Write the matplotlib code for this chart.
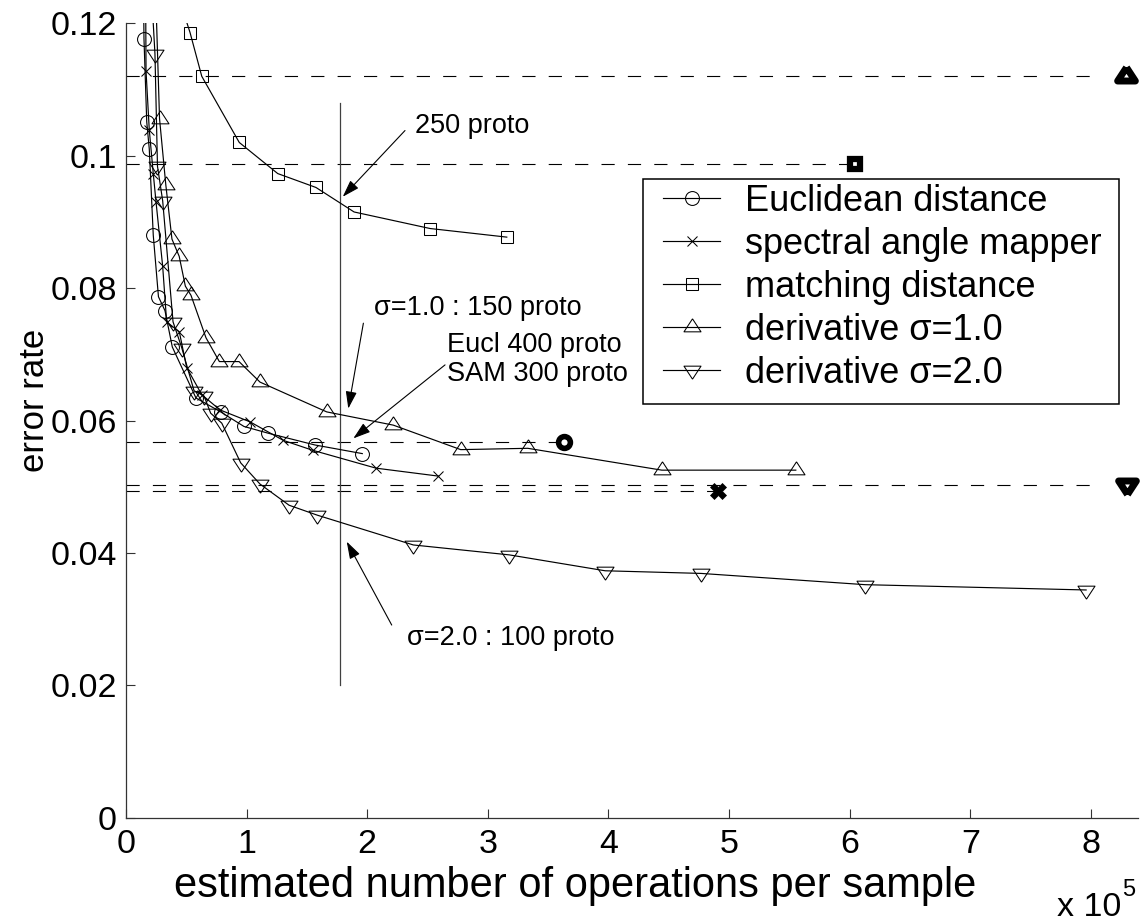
import matplotlib
matplotlib.use("Agg")
import matplotlib.pyplot as plt
from matplotlib.markers import MarkerStyle
from matplotlib.patches import Rectangle

plt.rcParams['font.family'] = ['Liberation Sans', 'DejaVu Sans']
plt.rcParams['lines.scale_dashes'] = False

# ---- data (operations in units of 1e5, error rate) ----
euclid_ops = [0.14, 0.149, 0.172, 0.193, 0.226, 0.269, 0.323, 0.384, 0.580, 0.785, 0.978, 1.175, 1.567, 1.959]
euclid_err = [0.135, 0.1177, 0.1051, 0.1010, 0.0880, 0.0787, 0.0766, 0.0711, 0.0634, 0.0613, 0.0591, 0.0581, 0.0563, 0.0550]

sam_ops = [0.16, 0.166, 0.193, 0.226, 0.249, 0.304, 0.337, 0.442, 0.503, 0.628, 0.779, 1.028, 1.304, 1.548, 2.073, 2.590]
sam_err = [0.135, 0.1128, 0.1039, 0.0973, 0.0930, 0.0833, 0.0749, 0.0734, 0.0680, 0.0639, 0.0616, 0.0598, 0.0570, 0.0555, 0.0528, 0.0516]

match_ops = [0.40, 0.531, 0.628, 0.939, 1.258, 1.575, 1.891, 2.521, 3.157]
match_err = [0.126, 0.1186, 0.1120, 0.1020, 0.0973, 0.0952, 0.0915, 0.0890, 0.0877]

d1_ops = [0.23, 0.278, 0.330, 0.381, 0.441, 0.492, 0.539, 0.663, 0.774, 0.937, 1.111, 1.664, 2.216, 2.775, 3.331, 4.442, 5.553]
d1_err = [0.134, 0.1056, 0.0956, 0.0874, 0.0848, 0.0803, 0.0789, 0.0725, 0.0689, 0.0689, 0.0658, 0.0613, 0.0593, 0.0556, 0.0558, 0.0525, 0.0525]

d2_ops = [0.195, 0.240, 0.261, 0.304, 0.390, 0.462, 0.564, 0.647, 0.702, 0.794, 0.951, 1.111, 1.352, 1.586, 2.382, 3.178, 3.972, 4.768, 6.128, 7.960]
d2_err = [0.130, 0.1154, 0.0984, 0.0932, 0.0749, 0.0710, 0.0645, 0.0637, 0.0611, 0.0596, 0.0536, 0.0504, 0.0472, 0.0457, 0.0412, 0.0397, 0.0373, 0.0369, 0.0352, 0.0344]

labels = ["Euclidean distance", "spectral angle mapper", "matching distance",
          "derivative σ=1.0", "derivative σ=2.0"]

# reference results (one per method) drawn as bold markers with dashed guides
ref_ops = [3.63, 4.91, 6.04, 8.29, 8.30]
ref_err = [0.0568, 0.0494, 0.0987, 0.1121, 0.0503]
guide_max_ops = 8.0

# chosen operating point
op_line_x = 1.775
op_line_err = (0.02, 0.108)

xticks = [0, 1, 2, 3, 4, 5, 6, 7, 8]
yticks = [0, 0.02, 0.04, 0.06, 0.08, 0.1, 0.12]
ytick_labels = ["0", "0.02", "0.04", "0.06", "0.08", "0.1", "0.12"]

# ---- figure ----
W, H = 1141, 922
fig = plt.figure(figsize=(W / 100, H / 100), dpi=100)
ax = fig.add_axes([126 / W, 1 - 817.7 / H, 1012 / W, (817.7 - 23.3) / H])
ax.set_xlim(0, 8.39)
ax.set_ylim(0, 0.12)

# triangle markers with the data point at the centroid
up_verts = [(0, 0.667), (-0.654, -0.333), (0.654, -0.333), (0, 0.667)]
dn_verts = [(0, -0.667), (-0.654, 0.333), (0.654, 0.333), (0, -0.667)]
tri_up = MarkerStyle(up_verts, joinstyle='miter')
tri_dn = MarkerStyle(dn_verts, joinstyle='miter')
tri_up_b = MarkerStyle(up_verts, joinstyle='round')
tri_dn_b = MarkerStyle(dn_verts, joinstyle='round')

lw = 0.85
common = dict(color='black', lw=lw, mfc='none', mec='black', mew=0.75, zorder=3)
h1, = ax.plot(euclid_ops, euclid_err, marker='o', ms=10, **common)
h2, = ax.plot(sam_ops, sam_err, marker='x', ms=7, **common)
h3, = ax.plot(match_ops, match_err, marker='s', ms=9, **common)
h4, = ax.plot(d1_ops, d1_err, marker=tri_up, ms=12.5, **common)
h5, = ax.plot(d2_ops, d2_err, marker=tri_dn, ms=12.5, **common)

# dashed guides and bold reference markers
bold_markers = ['o', 'X', 's', tri_up_b, tri_dn_b]
bold_sizes = [8.5, 11, 7, 13, 13]
bold_face = ['white', 'black', 'white', 'white', 'white']
bold_mew = [4.0, 0.5, 4.5, 5.0, 5.0]
for x, y, m, s, fc, mw in zip(ref_ops, ref_err, bold_markers, bold_sizes, bold_face, bold_mew):
    ax.plot([0, min(x, guide_max_ops)], [y, y], color='black', lw=0.8,
            dashes=(9.5, 9.5), zorder=2)
    ax.plot([x], [y], marker=m, ms=s, mfc=fc, mec='black', mew=mw,
            ls='none', zorder=4, clip_on=False)

ax.plot([op_line_x, op_line_x], list(op_line_err), color='#404040', lw=0.9, zorder=2)

# annotations
arrow = dict(arrowstyle='-|>,head_length=10.5,head_width=3.4', color='black',
             lw=0.8, shrinkA=0, shrinkB=0, mutation_scale=1)
tfs = 19.5
ax.annotate('', xy=(1.797, 0.0938), xytext=(2.313, 0.1038), arrowprops=arrow)
ax.text(2.396, 0.1034, "250 proto", fontsize=tfs, va='baseline', ha='left')
ax.annotate('', xy=(1.843, 0.0618), xytext=(1.968, 0.0747), arrowprops=arrow)
ax.text(2.056, 0.0759, "σ=1.0 : 150 proto", fontsize=tfs, va='baseline', ha='left')
ax.annotate('', xy=(1.885, 0.0573), xytext=(2.645, 0.0684), arrowprops=arrow)
ax.text(2.659, 0.0704, "Eucl 400 proto", fontsize=tfs, va='baseline', ha='left')
ax.text(2.659, 0.0659, "SAM 300 proto", fontsize=tfs, va='baseline', ha='left')
ax.annotate('', xy=(1.830, 0.0417), xytext=(2.203, 0.0291), arrowprops=arrow)
ax.text(2.332, 0.0261, "σ=2.0 : 100 proto", fontsize=tfs, va='baseline', ha='left')

# axes styling
for side in ('top', 'right'):
    ax.spines[side].set_visible(False)
for side in ('left', 'bottom'):
    ax.spines[side].set_color('#333333')
    ax.spines[side].set_linewidth(0.9)
ax.set_xticks(xticks)
ax.set_xticklabels([str(t) for t in xticks])
ax.set_yticks(yticks)
ax.set_yticklabels(ytick_labels)
ax.tick_params(direction='in', length=6.5, width=0.8, color='#333333', labelsize=24.5)
ax.tick_params(axis='x', pad=8)
ax.tick_params(axis='y', pad=6.5)

fig.text(575 / W, 1 - 897 / H, "estimated number of operations per sample",
         fontsize=30, ha='center', va='baseline')
fig.text(1057 / W, 1 - 916 / H, "x 10", fontsize=24.5, ha='left', va='baseline')
fig.text(1122 / W, 1 - 896 / H, "5", fontsize=17, ha='left', va='baseline')
fig.text(35 / W, 1 - 400 / H, "error rate", fontsize=25, rotation=90,
         ha='center', va='center')

# legend with a square frame
ax.add_patch(Rectangle((643 / W, 1 - 404 / H), (1119 - 643) / W, (404 - 179) / H,
                       transform=fig.transFigure, facecolor='white',
                       edgecolor='black', lw=1.1, zorder=5, clip_on=False))
leg = ax.legend([h1, h2, h3, h4, h5], labels, loc='upper left',
                bbox_to_anchor=(663 / W, 1 - 184 / H), bbox_transform=fig.transFigure,
                frameon=False, fontsize=26, borderpad=0, borderaxespad=0,
                handlelength=1.58, handletextpad=0.69, labelspacing=0.22)
leg.set_zorder(6)

fig.savefig("out.png", dpi=100)
